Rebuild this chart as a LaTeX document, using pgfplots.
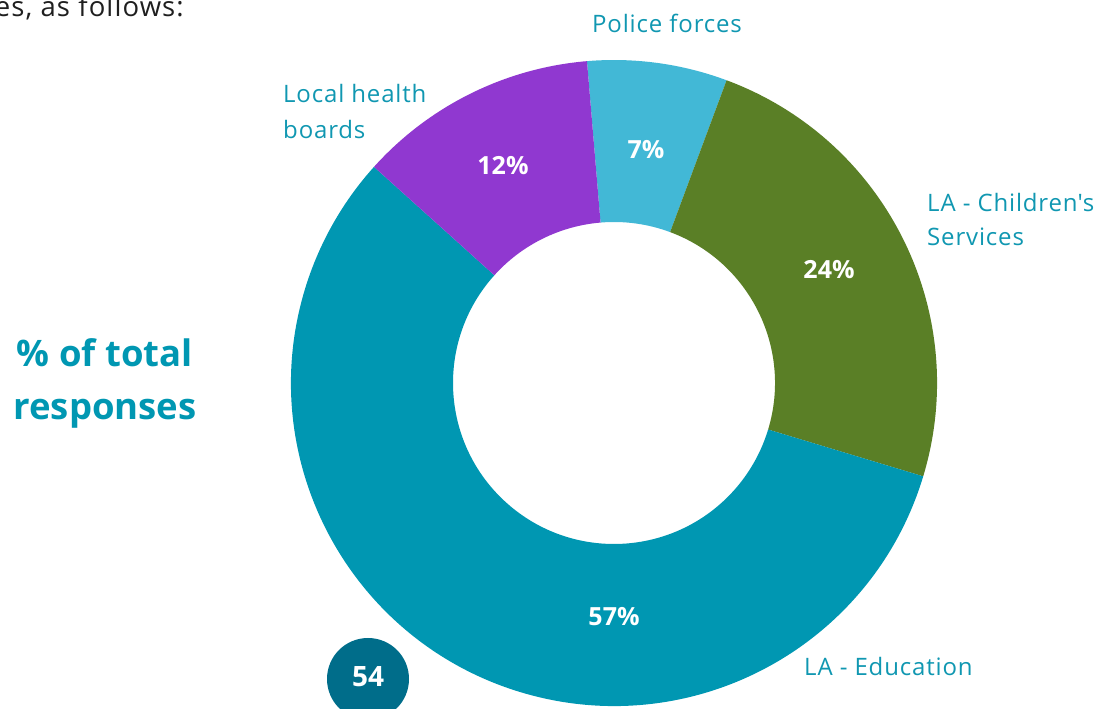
\documentclass[border=0pt]{standalone}
\usepackage{pgfplots}
\usepackage{pgfplotstable}
\pgfplotsset{compat=1.18}
\usepackage{fontspec}
\setmainfont{Open Sans}

\definecolor{educ}{HTML}{0097B2}
\definecolor{child}{HTML}{5A7F26}
\definecolor{police}{HTML}{42B8D6}
\definecolor{health}{HTML}{9038D0}
\definecolor{labtxt}{HTML}{1097B1}
\definecolor{pagenum}{HTML}{006D8A}

% share of total responses (%), clockwise from the top
% px/py: where the percentage label sits
\pgfplotstableread{
name      value  col     px   py
Police    7      police  646  559
Children  24     child   829  439
Education 57     educ    614  92
Health    12     health  503  543
}\slices

\begin{document}
\begin{tikzpicture}
\def\cx{614}\def\cy{326}
\def\rout{323}\def\rin{161}
% cumulative angles for the wedges
\pgfmathsetmacro\cum{94.8}
\pgfplotsforeachungrouped \i in {0,...,3}{%
  \pgfplotstablegetelem{\i}{value}\of\slices
  \pgfmathsetmacro\dang{3.6*\pgfplotsretval}%
  \expandafter\xdef\csname sa\i\endcsname{\cum}%
  \expandafter\xdef\csname da\i\endcsname{\dang}%
  \pgfmathsetmacro\cum{\cum-\dang}%
  \pgfplotstablegetelem{\i}{col}\of\slices
  \colorlet{slice\i}{\pgfplotsretval}%
}
\begin{axis}[
    x=1pt, y=1pt,
    xmin=0, xmax=1114,
    ymin=0, ymax=709,
    hide axis,
    clip=false,
    /pgf/number format/assume math mode=true,
]
    \path (axis cs:0,0) coordinate (sw) (axis cs:1114,709) coordinate (ne);

    % donut wedges
    \pgfplotsinvokeforeach{0,...,3}{
        \fill[slice#1]
            (axis cs:{\cx+\rout*cos(\csname sa#1\endcsname)},{\cy+\rout*sin(\csname sa#1\endcsname)})
            arc[start angle=\csname sa#1\endcsname, delta angle=-\csname da#1\endcsname, radius=\rout pt]
            -- (axis cs:{\cx+\rin*cos(\csname sa#1\endcsname-\csname da#1\endcsname)},{\cy+\rin*sin(\csname sa#1\endcsname-\csname da#1\endcsname)})
            arc[start angle={\csname sa#1\endcsname-\csname da#1\endcsname}, delta angle=\csname da#1\endcsname, radius=\rin pt]
            -- cycle;
    }

    % percentage labels
    \addplot[draw=none, mark=none,
        point meta=explicit,
        nodes near coords={\pgfmathprintnumber{\pgfplotspointmeta}\%},
        nodes near coords align={center},
        every node near coord/.append style={text=white, inner sep=0pt,
            font=\fontsize{25}{30}\selectfont\bfseries},
    ] table[x=px, y=py, meta=value] {\slices};

    % category names
    \begin{scope}[every node/.style={text=labtxt, inner sep=0pt, anchor=base west,
            font=\fontsize{24}{28}\selectfont\addfontfeatures{LetterSpace=3.5}}]
        \node at (axis cs:592,676.7) {Police forces};
        \node at (axis cs:283,606.7) {Local health};
        \node at (axis cs:283,570.7) {boards};
        \node at (axis cs:927,497.3) {LA - Children\textquotesingle s};
        \node at (axis cs:927,463) {Services};
        \node at (axis cs:804,33.3) {LA - Education};
    \end{scope}

    % side title
    \node[text=educ, inner sep=0pt, anchor=base, font=\fontsize{36.5}{40}\selectfont\bfseries]
        at (axis cs:105,342) {\% of total};
    \node[text=educ, inner sep=0pt, anchor=base, font=\fontsize{36.5}{40}\selectfont\bfseries]
        at (axis cs:105,289) {responses};

    % running text cut off at the top
    \node[text=black!88, inner sep=0pt, anchor=base east,
        font=\fontsize{27.5}{32}\selectfont\addfontfeatures{LetterSpace=4}]
        at (axis cs:184,692.3) {es, as follows:};

    % page number badge
    \fill[pagenum] (axis cs:368,30) circle[radius=41pt];
    \node[text=white, inner sep=0pt, font=\fontsize{28}{34}\selectfont\bfseries]
        at (axis cs:368,32) {54};
\end{axis}
\pgfresetboundingbox
\useasboundingbox (sw) rectangle (ne);
\end{tikzpicture}
\end{document}
